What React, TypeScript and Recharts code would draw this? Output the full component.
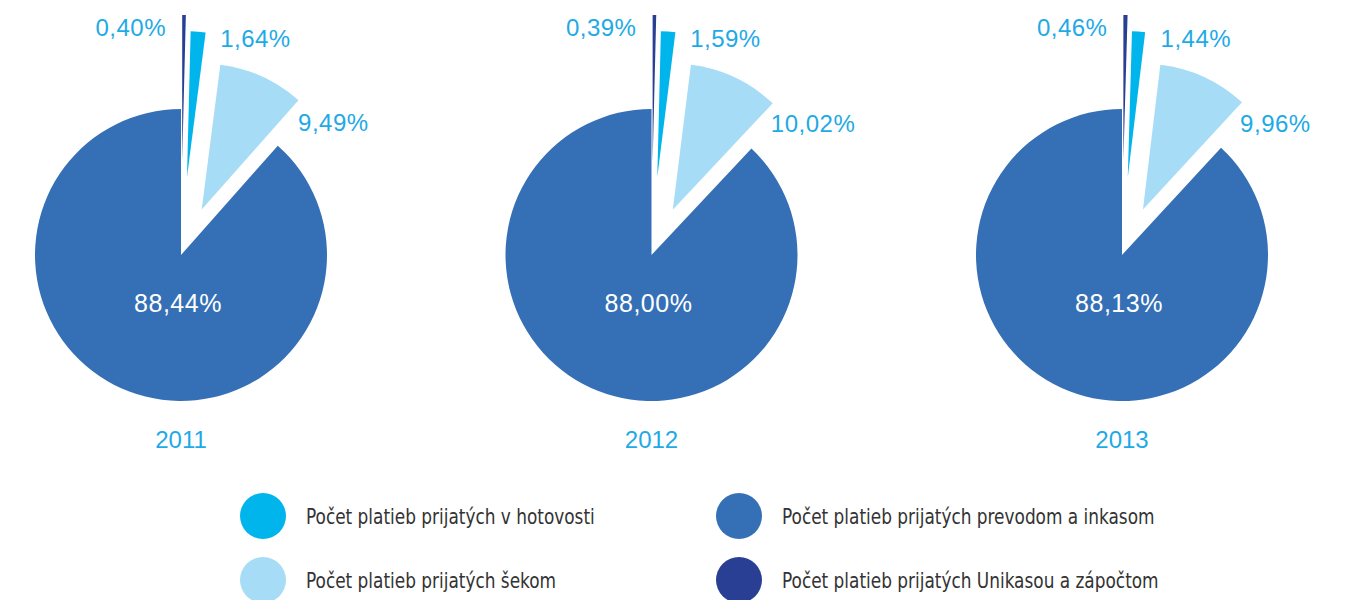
import { PieChart, Pie, Cell } from 'recharts';

// values in %, one entry per year
const years = ['2011', '2012', '2013'];
const unikasa = [0.4, 0.39, 0.46];
const hotovost = [1.64, 1.59, 1.44];
const sekom = [9.49, 10.02, 9.96];
const prevodom = [88.44, 88.0, 88.13];

// slice order clockwise from 12 o'clock
const sliceNames = [
  'Počet platieb prijatých Unikasou a zápočtom',
  'Počet platieb prijatých v hotovosti',
  'Počet platieb prijatých šekom',
  'Počet platieb prijatých prevodom a inkasom',
];
const sliceColors = ['#283f93', '#00b5ec', '#a7dcf7', '#3570b6'];
const explode = [94, 78, 50, 0];

// legend grid: left column then right column
const legendRows = [
  [1, 3],
  [2, 0],
];

const centersX = [181, 651.5, 1122];
const centerY = 255;
const radius = 146;
const labelColor = '#1eaae6';
const labelFont = '"Liberation Sans", Arial, sans-serif';

const fmt = (v: number) => v.toFixed(2).replace('.', ',') + '%';

// where each label sits relative to the outer arc point at the slice's midAngle
const labelShift = [
  { dx: -18, dy: 12, anchor: 'end' },
  { dx: 22, dy: 7, anchor: 'start' },
  { dx: 36, dy: 46, anchor: 'start' },
  { dx: 0, dy: 0, anchor: 'middle' },
];

const RAD = Math.PI / 180;

function yearData(i: number) {
  return [unikasa[i], hotovost[i], sekom[i], prevodom[i]].map((v, k) => ({
    name: sliceNames[k],
    value: v,
  }));
}

function offsetFor(data: { value: number }[], k: number) {
  const total = data.reduce((s, d) => s + d.value, 0);
  const before = data.slice(0, k).reduce((s, d) => s + d.value, 0);
  const mid = ((before + data[k].value / 2) / total) * 360;
  return { dx: explode[k] * Math.sin(mid * RAD), dy: -explode[k] * Math.cos(mid * RAD) };
}

function makeLabel(k: number, yearIdx: number) {
  return (props: any) => {
    if (props.index !== k) return null;
    const { cx, cy, midAngle, outerRadius, value } = props;
    let x: number;
    let y: number;
    if (k === 3) {
      x = centersX[yearIdx] - 3;
      y = centerY + 48;
    } else {
      x = cx + outerRadius * Math.cos(-midAngle * RAD) + labelShift[k].dx;
      y = cy + outerRadius * Math.sin(-midAngle * RAD) + labelShift[k].dy;
    }
    return (
      <text
        x={x}
        y={y}
        textAnchor={labelShift[k].anchor as any}
        dominantBaseline="central"
        fill={k === 3 ? '#ffffff' : labelColor}
        fontSize={k === 3 ? 25 : 24}
        fontFamily={labelFont}
        letterSpacing={0.5}
      >
        {fmt(value)}
      </text>
    );
  };
}

export default function App() {
  return (
    <div style={{ position: 'relative', width: 1351, height: 600, background: '#fff', overflow: 'hidden' }}>
      <style>{`body{margin:0}`}</style>
      <PieChart
        width={1351}
        height={470}
        margin={{ top: 0, right: 0, bottom: 0, left: 0 }}
        style={{ position: 'absolute', left: 0, top: 0 }}
      >
        {years.map((yr, i) => {
          const data = yearData(i);
          return data.map((_, k) => {
            const off = offsetFor(data, k);
            return (
              <Pie
                key={`${yr}-${k}`}
                data={data}
                dataKey="value"
                nameKey="name"
                cx={centersX[i] + off.dx}
                cy={centerY + off.dy}
                outerRadius={radius}
                startAngle={90}
                endAngle={-270}
                stroke="none"
                labelLine={false}
                label={makeLabel(k, i)}
                isAnimationActive={false}
              >
                {data.map((d, j) => (
                  <Cell key={d.name} fill={j === k ? sliceColors[j] : 'transparent'} />
                ))}
              </Pie>
            );
          });
        })}
      </PieChart>

      {years.map((yr, i) => (
        <div
          key={yr}
          style={{
            position: 'absolute',
            left: centersX[i] - 60,
            width: 120,
            top: 424,
            textAlign: 'center',
            fontFamily: labelFont,
            fontSize: 24,
            color: labelColor,
            lineHeight: '32px',
          }}
        >
          {yr}
        </div>
      ))}

      {legendRows.map((row, r) =>
        row.map((k, c) => (
          <div
            key={k}
            style={{
              position: 'absolute',
              left: c === 0 ? 240 : 716,
              top: 493 + r * 64,
              height: 46,
              display: 'flex',
              alignItems: 'center',
            }}
          >
            <span
              style={{
                width: 46,
                height: 46,
                borderRadius: '50%',
                background: sliceColors[k],
                display: 'inline-block',
                flexShrink: 0,
              }}
            />
            <span
              style={{
                marginLeft: 20,
                fontFamily: '"DejaVu Sans Condensed", "Liberation Sans", sans-serif',
                fontSize: 22,
                color: '#333333',
                whiteSpace: 'nowrap',
                display: 'inline-block',
                transform: 'scaleX(0.855)',
                transformOrigin: 'left center',
              }}
            >
              {sliceNames[k]}
            </span>
          </div>
        ))
      )}
    </div>
  );
}
